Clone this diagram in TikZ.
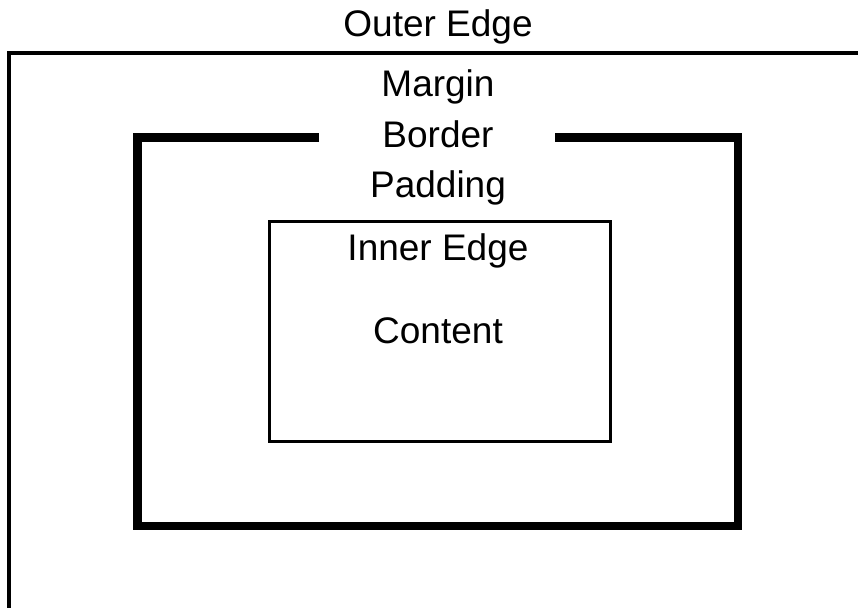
\documentclass[tikz,border=0pt]{standalone}
\usepackage{fontspec}
\setmainfont{Liberation Sans}
\tikzset{
  boxlabel/.style={anchor=base, inner sep=0pt, font=\fontsize{37}{44}\selectfont},
  edgeline/.style={line width=3.5pt},
  borderline/.style={line width=8.5pt, line join=miter},
  innerline/.style={line width=3pt}
}
\begin{document}
\begin{tikzpicture}[x=1pt, y=-1pt]
  \useasboundingbox (0,0) rectangle (858,607);
  \clip (0,0) rectangle (858,607);
  % outer edge, runs off the page
  \draw[edgeline] (9,620) -- (9,53) -- (880,53);
  % border with a gap for its label
  \draw[borderline] (319,137.5) -- (137.5,137.5) -- (137.5,526) -- (738,526) -- (738,137.5) -- (555,137.5);
  % inner edge
  \draw[innerline] (269,221) rectangle (610.5,441.5);
  \node[boxlabel] (outer) at (438,37) {Outer Edge};
  \node[boxlabel] (margin) at (438,96) {Margin};
  \node[boxlabel] (border) at (438,147) {Border};
  \node[boxlabel] (padding) at (438,197) {Padding};
  \node[boxlabel] (inner) at (438,260) {Inner Edge};
  \node[boxlabel] (content) at (438,343) {Content};
\end{tikzpicture}
\end{document}
